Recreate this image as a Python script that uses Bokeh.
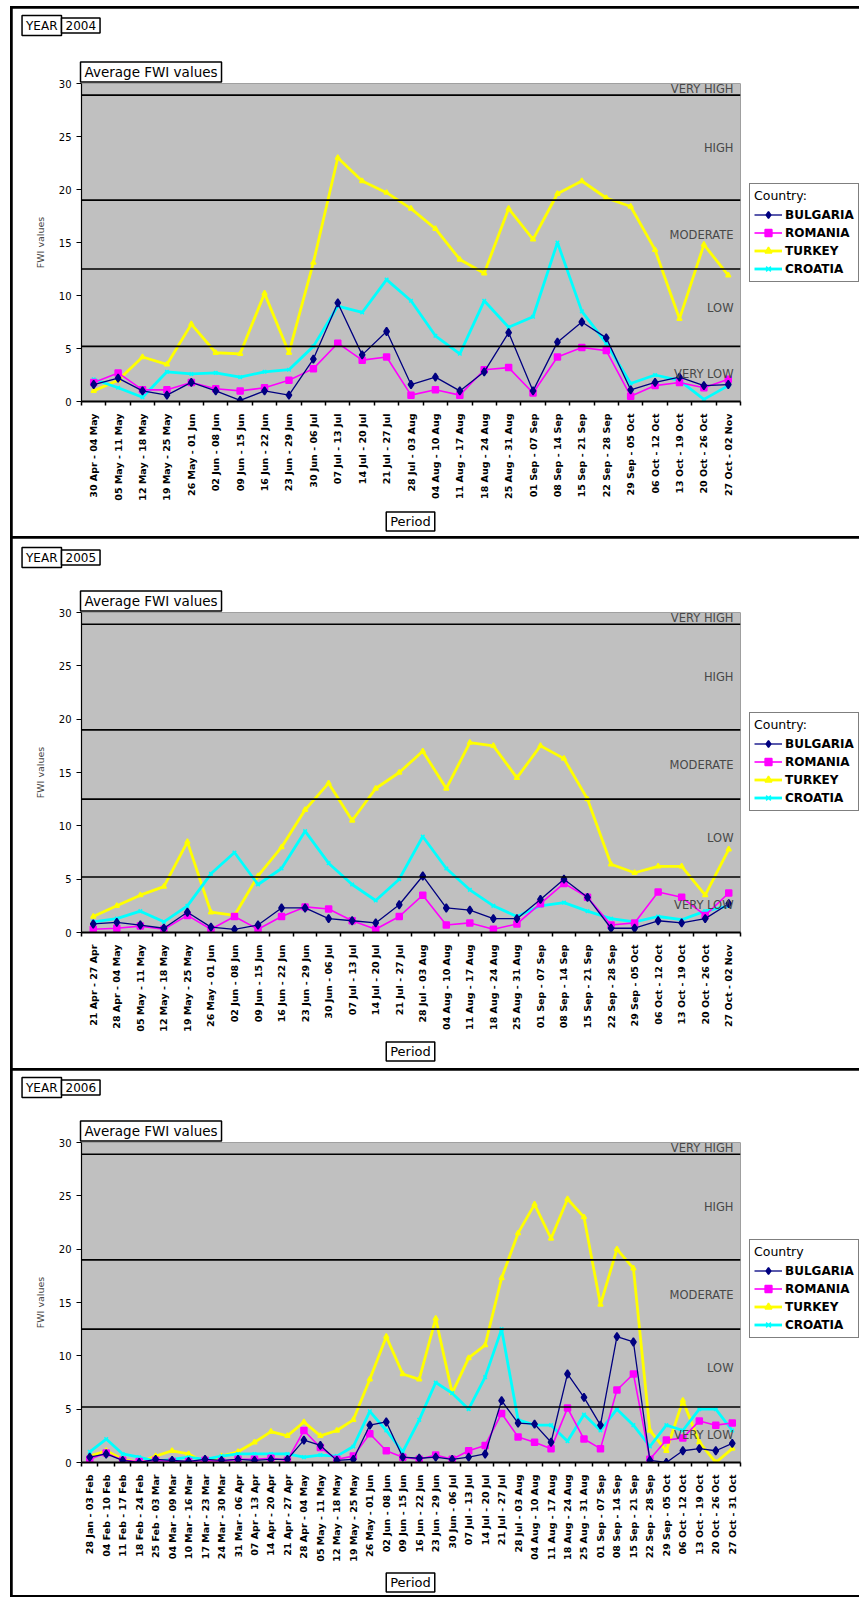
import math
from bokeh.plotting import figure
from bokeh.models import Range1d, FixedTicker, Span, Label, Legend, LegendItem
from bokeh.layouts import column
from bokeh.embed import file_html
from bokeh.resources import INLINE

# ---------------- data ----------------
periods_2004 = ["30 Apr - 04 May", "05 May - 11 May", "12 May - 18 May", "19 May - 25 May",
                "26 May - 01 Jun", "02 Jun - 08 Jun", "09 Jun - 15 Jun", "16 Jun - 22 Jun",
                "23 Jun - 29 Jun", "30 Jun - 06 Jul", "07 Jul - 13 Jul", "14 Jul - 20 Jul",
                "21 Jul - 27 Jul", "28 Jul - 03 Aug", "04 Aug - 10 Aug", "11 Aug - 17 Aug",
                "18 Aug - 24 Aug", "25 Aug - 31 Aug", "01 Sep - 07 Sep", "08 Sep - 14 Sep",
                "15 Sep - 21 Sep", "22 Sep - 28 Sep", "29 Sep - 05 Oct", "06 Oct - 12 Oct",
                "13 Oct - 19 Oct", "20 Oct - 26 Oct", "27 Oct - 02 Nov"]
bulgaria_2004 = [1.6, 2.2, 1.0, 0.6, 1.8, 1.0, 0.1, 1.0, 0.6, 4.0, 9.3, 4.4, 6.6, 1.6, 2.3, 1.0,
                 2.8, 6.5, 1.0, 5.6, 7.5, 6.0, 1.1, 1.8, 2.3, 1.5, 1.6]
romania_2004 = [1.8, 2.7, 1.1, 1.1, 1.8, 1.2, 1.0, 1.3, 2.0, 3.1, 5.5, 3.9, 4.2, 0.6, 1.1, 0.6,
                3.0, 3.2, 0.8, 4.2, 5.1, 4.8, 0.5, 1.5, 1.8, 1.3, 2.1]
turkey_2004 = [1.0, 2.0, 4.2, 3.5, 7.3, 4.6, 4.5, 10.2, 4.6, 13.1, 23.0, 20.8, 19.7, 18.2, 16.3,
               13.4, 12.1, 18.2, 15.3, 19.6, 20.8, 19.2, 18.4, 14.3, 7.8, 14.8, 11.9]
croatia_2004 = [2.1, 1.3, 0.4, 2.8, 2.6, 2.7, 2.3, 2.8, 3.0, 5.2, 9.0, 8.4, 11.5, 9.5, 6.2, 4.5,
                9.5, 7.0, 8.0, 15.0, 8.5, 5.5, 1.7, 2.5, 2.0, 0.2, 1.5]

periods_2005 = ["21 Apr - 27 Apr", "28 Apr - 04 May", "05 May - 11 May", "12 May - 18 May",
                "19 May - 25 May", "26 May - 01 Jun", "02 Jun - 08 Jun", "09 Jun - 15 Jun",
                "16 Jun - 22 Jun", "23 Jun - 29 Jun", "30 Jun - 06 Jul", "07 Jul - 13 Jul",
                "14 Jul - 20 Jul", "21 Jul - 27 Jul", "28 Jul - 03 Aug", "04 Aug - 10 Aug",
                "11 Aug - 17 Aug", "18 Aug - 24 Aug", "25 Aug - 31 Aug", "01 Sep - 07 Sep",
                "08 Sep - 14 Sep", "15 Sep - 21 Sep", "22 Sep - 28 Sep", "29 Sep - 05 Oct",
                "06 Oct - 12 Oct", "13 Oct - 19 Oct", "20 Oct - 26 Oct", "27 Oct - 02 Nov"]
bulgaria_2005 = [0.8, 0.95, 0.7, 0.4, 1.9, 0.5, 0.3, 0.7, 2.3, 2.3, 1.3, 1.1, 0.9, 2.6, 5.3, 2.3,
                 2.1, 1.3, 1.3, 3.1, 5.0, 3.3, 0.4, 0.4, 1.1, 0.9, 1.3, 2.7]
romania_2005 = [0.3, 0.4, 0.6, 0.3, 1.6, 0.3, 1.5, 0.3, 1.5, 2.4, 2.2, 1.1, 0.3, 1.5, 3.5, 0.7,
                0.9, 0.3, 0.8, 2.7, 4.6, 3.3, 0.7, 0.9, 3.8, 3.3, 1.6, 3.7]
turkey_2005 = [1.5, 2.5, 3.5, 4.3, 8.5, 1.9, 1.6, 5.3, 8.0, 11.5, 14.0, 10.5, 13.5, 15.0, 17.0,
               13.5, 17.8, 17.5, 14.5, 17.5, 16.3, 12.5, 6.4, 5.6, 6.2, 6.2, 3.5, 7.8]
croatia_2005 = [1.0, 1.3, 2.0, 1.0, 2.5, 5.5, 7.5, 4.5, 6.0, 9.5, 6.5, 4.5, 3.0, 5.0, 9.0, 6.0,
                4.0, 2.5, 1.5, 2.5, 2.8, 2.0, 1.3, 1.0, 1.5, 1.2, 2.0, 2.5]

periods_2006 = ["28 Jan - 03 Feb", "04 Feb - 10 Feb", "11 Feb - 17 Feb", "18 Feb - 24 Feb",
                "25 Feb - 03 Mar", "04 Mar - 09 Mar", "10 Mar - 16 Mar", "17 Mar - 23 Mar",
                "24 Mar - 30 Mar", "31 Mar - 06 Apr", "07 Apr - 13 Apr", "14 Apr - 20 Apr",
                "21 Apr - 27 Apr", "28 Apr - 04 May", "05 May - 11 May", "12 May - 18 May",
                "19 May - 25 May", "26 May - 01 Jun", "02 Jun - 08 Jun", "09 Jun - 15 Jun",
                "16 Jun - 22 Jun", "23 Jun - 29 Jun", "30 Jun - 06 Jul", "07 Jul - 13 Jul",
                "14 Jul - 20 Jul", "21 Jul - 27 Jul", "28 Jul - 03 Aug", "04 Aug - 10 Aug",
                "11 Aug - 17 Aug", "18 Aug - 24 Aug", "25 Aug - 31 Aug", "01 Sep - 07 Sep",
                "08 Sep - 14 Sep", "15 Sep - 21 Sep", "22 Sep - 28 Sep", "29 Sep - 05 Oct",
                "06 Oct - 12 Oct", "13 Oct - 19 Oct", "20 Oct - 26 Oct", "27 Oct - 31 Oct"]
bulgaria_2006 = [0.5, 0.8, 0.2, 0.0, 0.3, 0.2, 0.1, 0.3, 0.2, 0.3, 0.2, 0.3, 0.3, 2.1, 1.6, 0.2,
                 0.3, 3.5, 3.8, 0.5, 0.4, 0.5, 0.3, 0.5, 0.8, 5.8, 3.7, 3.6, 1.9, 8.3, 6.1, 3.5,
                 11.8, 11.3, 0.2, 0.0, 1.1, 1.3, 1.1, 1.8]
romania_2006 = [0.3, 0.9, 0.2, 0.1, 0.2, 0.1, 0.1, 0.2, 0.1, 0.3, 0.3, 0.4, 0.2, 3.0, 1.4, 0.3,
                0.6, 2.7, 1.1, 0.5, 0.3, 0.7, 0.3, 1.1, 1.6, 4.6, 2.4, 1.9, 1.3, 5.1, 2.2, 1.3,
                6.8, 8.3, 0.3, 2.1, 2.3, 3.9, 3.5, 3.7]
turkey_2006 = [0.6, 1.1, 0.3, 0.0, 0.6, 1.1, 0.8, 0.0, 0.6, 1.0, 1.9, 2.9, 2.5, 3.8, 2.5, 3.0,
               4.0, 7.8, 11.8, 8.3, 7.8, 13.5, 6.5, 9.8, 11.0, 17.3, 21.5, 24.2, 21.0, 24.7,
               23.0, 14.8, 20.0, 18.2, 3.0, 1.1, 5.8, 1.9, 0.0, 1.3]
croatia_2006 = [1.0, 2.2, 0.8, 0.5, 0.1, 0.3, 0.5, 0.3, 0.6, 0.8, 0.8, 0.8, 0.8, 0.5, 0.7, 0.6,
                1.5, 4.8, 3.0, 1.0, 4.0, 7.5, 6.5, 5.0, 8.0, 12.5, 4.0, 3.5, 3.5, 2.0, 4.5, 3.0,
                5.0, 3.5, 1.5, 3.5, 3.0, 5.0, 5.0, 3.0]

y_ticks = [0, 5, 10, 15, 20, 25, 30]
class_names = ["VERY LOW", "LOW", "MODERATE", "HIGH", "VERY HIGH"]
class_bounds = [0, 5.2, 12.5, 19.0, 28.9, 30]
countries = ["BULGARIA", "ROMANIA", "TURKEY", "CROATIA"]

# ---------------- styles ----------------
FONT = "DejaVu Sans"
FRAME_W = 659
LEFT = 69
RIGHT = 115
YMAX = 30
COLORS = {"BULGARIA": "#000080", "ROMANIA": "#FF00FF", "TURKEY": "#FFFF00", "CROATIA": "#00FFFF"}
MARKERS = {"BULGARIA": "diamond", "ROMANIA": "square", "TURKEY": "triangle", "CROATIA": "x"}
MSIZE = {"BULGARIA": 8, "ROMANIA": 6, "TURKEY": 5, "CROATIA": 5}
LWIDTH = {"BULGARIA": 1.3, "ROMANIA": 1.6, "TURKEY": 2.8, "CROATIA": 2.8}


def boxed(text, x, y, align, size, pad_x=4, pad_y=2):
    return Label(x=x, y=y, text=text,
                 text_align=align, text_baseline="middle", text_font=FONT,
                 text_font_size=size, text_color="black",
                 background_fill_color="white", border_line_color="black",
                 border_line_width=1.5,
                 padding=dict(left=pad_x, right=pad_x, top=pad_y, bottom=pad_y))


def make_panel(year, periods, series, height, top, fh, year_cy, period_dy, legend_y, legend_title):
    n = len(periods)
    xs = [i + 0.5 for i in range(n)]
    px_x = n / FRAME_W          # data units per pixel, x
    px_y = YMAX / fh            # data units per pixel, y
    p = figure(frame_width=FRAME_W, frame_height=fh,
               min_border_left=LEFT, min_border_right=RIGHT,
               min_border_top=top, min_border_bottom=height - top - fh,
               x_range=Range1d(0, n), y_range=Range1d(0, YMAX),
               output_backend="svg", toolbar_location=None,
               background_fill_color="#C0C0C0", border_fill_color="white",
               outline_line_color=None)
    p.xgrid.visible = False
    p.ygrid.visible = False

    # x axis: labels at category centres, tick marks between categories
    p.xaxis.ticker = FixedTicker(ticks=xs, minor_ticks=list(range(n + 1)))
    p.xaxis.major_label_overrides = {x: lab for x, lab in zip(xs, periods)}
    p.xaxis.major_tick_line_color = None
    p.xaxis.minor_tick_line_color = "black"
    p.xaxis.minor_tick_line_width = 1.5
    p.xaxis.minor_tick_out = 4
    p.xaxis.minor_tick_in = 0
    p.xaxis.axis_line_width = 2.2
    p.xaxis.axis_line_color = "black"
    p.xaxis.major_label_orientation = math.pi / 2
    p.xaxis.major_label_text_font = FONT
    p.xaxis.major_label_text_font_size = "9.5px"
    p.xaxis.major_label_text_font_style = "bold"
    p.xaxis.major_label_text_color = "black"
    p.xaxis.major_label_standoff = 6

    p.yaxis.ticker = FixedTicker(ticks=y_ticks, minor_ticks=[])
    p.yaxis.major_tick_out = 5
    p.yaxis.major_tick_in = 0
    p.yaxis.major_tick_line_color = "black"
    p.yaxis.major_tick_line_width = 1.2
    p.yaxis.axis_line_color = "black"
    p.yaxis.axis_line_width = 1.2
    p.yaxis.major_label_text_font = FONT
    p.yaxis.major_label_text_font_size = "10px"
    p.yaxis.major_label_text_color = "black"
    p.yaxis.major_label_standoff = 5
    p.yaxis.axis_label = "FWI values"
    p.yaxis.axis_label_text_font = FONT
    p.yaxis.axis_label_text_font_size = "9.5px"
    p.yaxis.axis_label_text_font_style = "normal"
    p.yaxis.axis_label_standoff = 10

    # danger class boundaries and names
    for b in class_bounds[1:-1]:
        p.add_layout(Span(location=b, dimension="width", line_color="black", line_width=1.6))
    for name, lo, hi in zip(class_names, class_bounds[:-1], class_bounds[1:]):
        p.add_layout(Label(x=FRAME_W - 7, y=(lo + hi) / 2, x_units="screen", text=name,
                           text_align="right", text_baseline="middle", text_font=FONT,
                           text_font_size="11.5px", text_color="#484848"))

    # series
    rends = {}
    for c in ["TURKEY", "CROATIA", "ROMANIA", "BULGARIA"]:
        vals = series[c]
        ln = p.line(xs, vals, line_color=COLORS[c], line_width=LWIDTH[c])
        sc = p.scatter(xs, vals, marker=MARKERS[c], size=MSIZE[c],
                       fill_color=COLORS[c], line_color=COLORS[c], line_width=1.5)
        rends[c] = [ln, sc]

    legend = Legend(items=[LegendItem(label=c, renderers=rends[c]) for c in countries],
                    location=(9, legend_y), title=legend_title,
                    border_line_color="black", border_line_width=1.5,
                    background_fill_color="white", background_fill_alpha=1.0,
                    label_text_font=FONT, label_text_font_size="12px",
                    label_text_font_style="bold", label_text_color="black",
                    title_text_font=FONT, title_text_font_size="12.5px",
                    title_text_font_style="normal", title_text_color="black",
                    glyph_width=28, glyph_height=17, label_height=17, label_standoff=3,
                    spacing=1, padding=4, margin=0, title_standoff=3)
    p.add_layout(legend, "right")

    # text boxes (placed in side panels so they are not clipped to the frame)
    y_year = YMAX + (top - year_cy) * px_y
    p.add_layout(boxed("Average FWI values", -1 * px_x, YMAX + 11.5 * px_y, "left", "13.5px"), "above")
    p.add_layout(boxed("YEAR", -20 * px_x, y_year, "right", "12px", 4, 3), "above")
    p.add_layout(boxed(str(year), -20 * px_x, y_year, "left", "12px", 4, 3), "above")
    p.add_layout(boxed("Period", 329 * px_x, -period_dy * px_y, "center", "13px"), "below")
    return p


p1 = make_panel(2004, periods_2004,
                {"BULGARIA": bulgaria_2004, "ROMANIA": romania_2004,
                 "TURKEY": turkey_2004, "CROATIA": croatia_2004},
                height=528, top=75, fh=318, year_cy=17, period_dy=120,
                legend_y=119, legend_title="Country:")
p2 = make_panel(2005, periods_2005,
                {"BULGARIA": bulgaria_2005, "ROMANIA": romania_2005,
                 "TURKEY": turkey_2005, "CROATIA": croatia_2005},
                height=530, top=74, fh=320, year_cy=19, period_dy=119,
                legend_y=121, legend_title="Country:")
p3 = make_panel(2006, periods_2006,
                {"BULGARIA": bulgaria_2006, "ROMANIA": romania_2006,
                 "TURKEY": turkey_2006, "CROATIA": croatia_2006},
                height=525, top=72, fh=320, year_cy=17, period_dy=120,
                legend_y=124, legend_title="Country")

layout = column(p1, p2, p3, spacing=2,
                styles={"background-color": "black", "padding": "2px",
                        "margin-left": "10px", "margin-top": "6px"})

open("out.html", "w").write(file_html(layout, INLINE))
